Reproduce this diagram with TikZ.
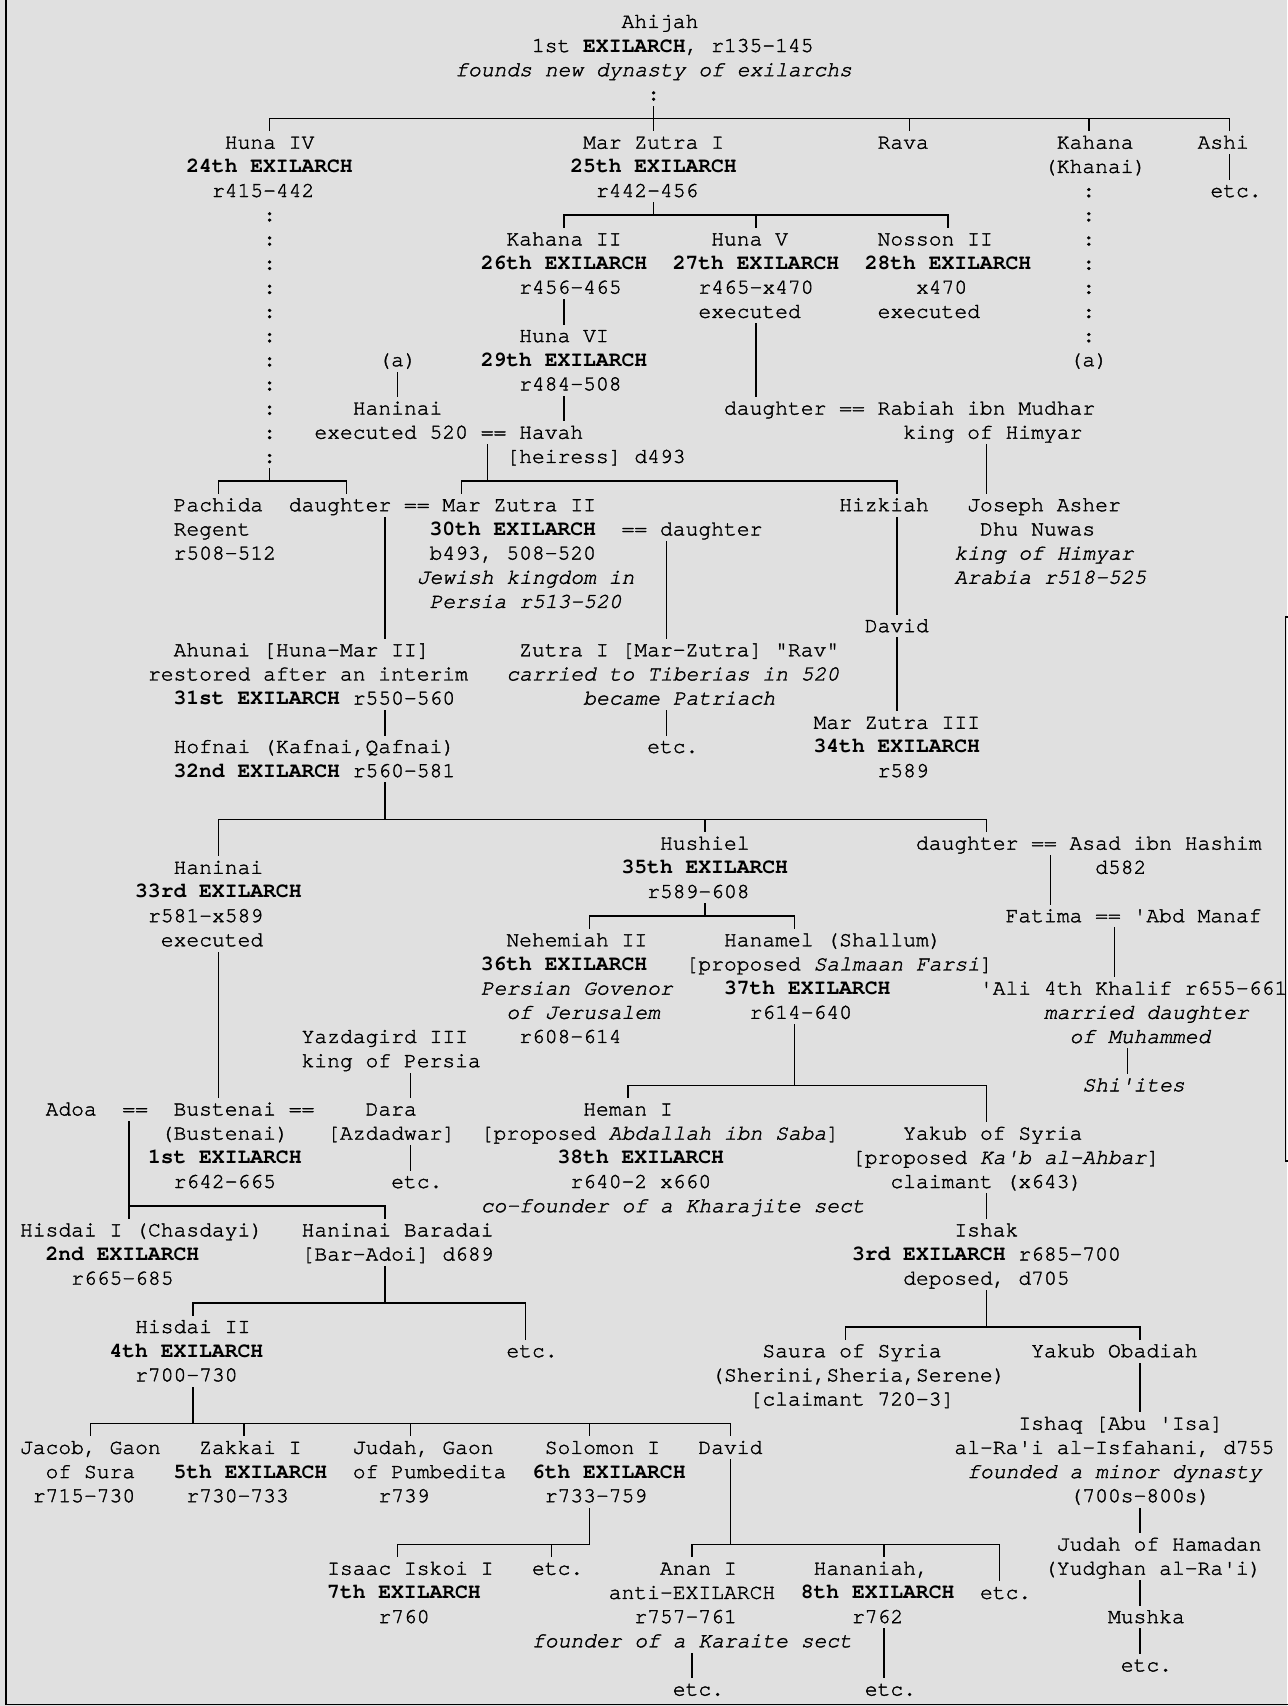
\documentclass[tikz,border=0pt]{standalone}
\usepackage{fontspec}
\setmonofont{texgyrecursor}[Extension=.otf, UprightFont=*-regular, BoldFont=*-bold, ItalicFont=*-italic, BoldItalicFont=*-bolditalic, UprightFeatures={FakeBold=1.6}, ItalicFeatures={FakeBold=1.6}]
\newcommand\mytt{\ttfamily\fontsize{21.33pt}{24.17pt}\selectfont\frenchspacing}
\definecolor{bg}{RGB}{224,224,224}
\definecolor{ink}{RGB}{0,0,0}
\tikzset{
  tx/.style={anchor=base west, inner sep=0pt, outer sep=0pt, font=\mytt, text=black},
  ln/.style={line width=1.4pt, draw=ink, line cap=rect},
}
\newcommand\tn[4]{\node[tx] (#1) at (#2-0.5,#3+0.25) {#4};}
\newcommand\vseg[3]{\draw[ln] (#1,#2-0.5) -- (#1,#3+0.5);}
\newcommand\brk[5]{%
  \draw[ln] (#2,#1) -- (#3,#1);
  \foreach \c in {#4} {\draw[ln] (\c,#1) -- (\c,#1+0.5);}
  \foreach \c in {#5} {\draw[ln] (\c,#1-0.5) -- (\c,#1);}
}
\begin{document}
\begin{tikzpicture}[x=12.8pt,y=-24.17pt]
\useasboundingbox (-2.0625,-0.9019) rectangle (98.484,69.6814);
\fill[bg] (-2.0625,-0.9019) rectangle (98.484,69.6814);
% frame
\draw[line width=1.7pt,draw=black] (-1.609,-0.95) -- (-1.609,69.62) -- (98.6,69.62);
\draw[line width=1.5pt,draw=black] (98.6,24.63) -- (98.35,24.63) -- (98.35,47.13) -- (98.6,47.13);

% ---------- text ----------
\tn{ahijah}{47}{0}{Ahijah}
\tn{ahijahB}{40}{1}{1st \textbf{EXILARCH}, r135-145}
\tn{ahijahC}{34}{2}{\textit{founds new dynasty of exilarchs}}
\tn{ahijahD}{49}{3}{:}

\tn{huna4}{16}{5}{Huna IV}
\tn{mz1}{44}{5}{Mar Zutra I}
\tn{rava}{67}{5}{Rava}
\tn{kahana}{81}{5}{Kahana}
\tn{ashi}{92}{5}{Ashi}
\tn{huna4B}{13}{6}{\textbf{24th EXILARCH}}
\tn{mz1B}{43}{6}{\textbf{25th EXILARCH}}
\tn{kahanaB}{80}{6}{(Khanai)}
\tn{huna4C}{15}{7}{r415-442}
\tn{mz1C}{45}{7}{r442-456}
\tn{ashiB}{93}{7}{etc.}

\foreach \r in {8,...,18} {\node[tx] (colL\r) at (18.5,\r+0.25) {:};}
\foreach \r in {7,...,13} {\node[tx] (colR\r) at (82.5,\r+0.25) {:};}

\tn{kah2}{38}{9}{Kahana II}
\tn{huna5}{54}{9}{Huna V}
\tn{nosson}{67}{9}{Nosson II}
\tn{kah2B}{36}{10}{\textbf{26th EXILARCH}}
\tn{huna5B}{51}{10}{\textbf{27th EXILARCH}}
\tn{nossonB}{66}{10}{\textbf{28th EXILARCH}}
\tn{kah2C}{39}{11}{r456-465}
\tn{huna5C}{53}{11}{r465-x470}
\tn{nossonC}{70}{11}{x470}
\tn{huna5D}{53}{12}{executed}
\tn{nossonD}{67}{12}{executed}
\tn{huna6}{39}{13}{Huna VI}
\tn{aL}{28}{14}{(a)}
\tn{huna6B}{36}{14}{\textbf{29th EXILARCH}}
\tn{aR}{82}{14}{(a)}
\tn{huna6C}{39}{15}{r484-508}
\tn{haninai}{26}{16}{Haninai}
\tn{rabiah}{55}{16}{daughter == Rabiah ibn Mudhar}
\tn{havah}{23}{17}{executed 520 == Havah}
\tn{rabiahB}{69}{17}{king of Himyar}
\tn{havahB}{38}{18}{[heiress] d493}

\tn{pachida}{12}{20}{Pachida}
\tn{mz2}{21}{20}{daughter == Mar Zutra II}
\tn{hizkiah}{64}{20}{Hizkiah}
\tn{joseph}{74}{20}{Joseph Asher}
\tn{pachidaB}{12}{21}{Regent}
\tn{mz2B}{32}{21}{\textbf{30th EXILARCH}}
\tn{mz2W}{47}{21}{== daughter}
\tn{josephB}{75}{21}{Dhu Nuwas}
\tn{pachidaC}{12}{22}{r508-512}
\tn{mz2C}{32}{22}{b493, 508-520}
\tn{josephC}{73}{22}{\textit{king of Himyar}}
\tn{mz2D}{31}{23}{\textit{Jewish kingdom in}}
\tn{josephD}{73}{23}{\textit{Arabia r518-525}}
\tn{mz2E}{32}{24}{\textit{Persia r513-520}}
\tn{david1}{66}{25}{David}
\tn{ahunai}{12}{26}{Ahunai [Huna-Mar II]}
\tn{zutra1}{39}{26}{Zutra I [Mar-Zutra] "Rav"}
\tn{ahunaiB}{10}{27}{restored after an interim}
\tn{zutra1B}{38}{27}{\textit{carried to Tiberias in 520}}
\tn{ahunaiC}{12}{28}{\textbf{31st EXILARCH} r550-560}
\tn{zutra1C}{44}{28}{\textit{became Patriach}}
\tn{mz3}{62}{29}{Mar Zutra III}
\tn{hofnai}{12}{30}{Hofnai (Kafnai,Qafnai)}
\tn{zutra1D}{49}{30}{etc.}
\tn{mz3B}{62}{30}{\textbf{34th EXILARCH}}
\tn{hofnaiB}{12}{31}{\textbf{32nd EXILARCH} r560-581}
\tn{mz3C}{67}{31}{r589}

\tn{hushiel}{50}{34}{Hushiel}
\tn{asad}{70}{34}{daughter == Asad ibn Hashim}
\tn{haninai2}{12}{35}{Haninai}
\tn{hushielB}{47}{35}{\textbf{35th EXILARCH}}
\tn{asadB}{84}{35}{d582}
\tn{haninai2B}{9}{36}{\textbf{33rd EXILARCH}}
\tn{hushielC}{49}{36}{r589-608}
\tn{haninai2C}{10}{37}{r581-x589}
\tn{fatima}{77}{37}{Fatima == 'Abd Manaf}
\tn{haninai2D}{11}{38}{executed}
\tn{nehemiah}{38}{38}{Nehemiah II}
\tn{hanamel}{55}{38}{Hanamel (Shallum)}
\tn{nehemiahB}{36}{39}{\textbf{36th EXILARCH}}
\tn{hanamelB}{52}{39}{[proposed \textit{Salmaan Farsi}]}
\tn{nehemiahC}{36}{40}{\textit{Persian Govenor}}
\tn{hanamelC}{55}{40}{\textbf{37th EXILARCH}}
\tn{ali}{75}{40}{'Ali 4th Khalif r655-661}
\tn{nehemiahD}{38}{41}{\textit{of Jerusalem}}
\tn{hanamelD}{57}{41}{r614-640}
\tn{aliB}{80}{41}{\textit{married daughter}}
\tn{yazd}{22}{42}{Yazdagird III}
\tn{nehemiahE}{39}{42}{r608-614}
\tn{aliC}{82}{42}{\textit{of Muhammed}}
\tn{yazdB}{22}{43}{king of Persia}
\tn{shiites}{83}{44}{\textit{Shi'ites}}

\tn{adoa}{2}{45}{Adoa}
\tn{eqA}{8}{45}{==}
\tn{bustenai}{12}{45}{Bustenai}
\tn{eqB}{21}{45}{==}
\tn{dara}{27}{45}{Dara}
\tn{heman}{44}{45}{Heman I}
\tn{bustenaiB}{11}{46}{(Bustenai)}
\tn{daraB}{24}{46}{[Azdadwar]}
\tn{hemanB}{36}{46}{[proposed \textit{Abdallah ibn Saba}]}
\tn{yakub}{69}{46}{Yakub of Syria}
\tn{bustenaiC}{10}{47}{\textbf{1st EXILARCH}}
\tn{hemanC}{42}{47}{\textbf{38th EXILARCH}}
\tn{yakubB}{65}{47}{[proposed \textit{Ka'b al-Ahbar}]}
\tn{bustenaiD}{12}{48}{r642-665}
\tn{daraC}{29}{48}{etc.}
\tn{hemanD}{43}{48}{r640-2 x660}
\tn{yakubC}{68}{48}{claimant (x643)}
\tn{hemanE}{36}{49}{\textit{co-founder of a Kharajite sect}}

\tn{hisdai1}{0}{50}{Hisdai I (Chasdayi)}
\tn{baradai}{22}{50}{Haninai Baradai}
\tn{ishak}{73}{50}{Ishak}
\tn{hisdai1B}{2}{51}{\textbf{2nd EXILARCH}}
\tn{baradaiB}{22}{51}{[Bar-Adoi] d689}
\tn{ishakB}{65}{51}{\textbf{3rd EXILARCH} r685-700}
\tn{hisdai1C}{4}{52}{r665-685}
\tn{ishakC}{69}{52}{deposed, d705}
\tn{hisdai2}{9}{54}{Hisdai II}
\tn{hisdai2B}{7}{55}{\textbf{4th EXILARCH}}
\tn{baradaiC}{38}{55}{etc.}
\tn{saura}{58}{55}{Saura of Syria}
\tn{obadiah}{79}{55}{Yakub Obadiah}
\tn{hisdai2C}{9}{56}{r700-730}
\tn{sauraB}{54}{56}{(Sherini,Sheria,Serene)}
\tn{sauraC}{57}{57}{[claimant 720-3]}
\tn{ishaq}{78}{58}{Ishaq [Abu 'Isa]}

\tn{jacob}{0}{59}{Jacob, Gaon}
\tn{zakkai}{14}{59}{Zakkai I}
\tn{judah}{26}{59}{Judah, Gaon}
\tn{solomon}{41}{59}{Solomon I}
\tn{david2}{53}{59}{David}
\tn{ishaqB}{73}{59}{al-Ra'i al-Isfahani, d755}
\tn{jacobB}{2}{60}{of Sura}
\tn{zakkaiB}{12}{60}{\textbf{5th EXILARCH}}
\tn{judahB}{26}{60}{of Pumbedita}
\tn{solomonB}{40}{60}{\textbf{6th EXILARCH}}
\tn{ishaqC}{74}{60}{\textit{founded a minor dynasty}}
\tn{jacobC}{1}{61}{r715-730}
\tn{zakkaiC}{13}{61}{r730-733}
\tn{judahC}{28}{61}{r739}
\tn{solomonC}{41}{61}{r733-759}
\tn{ishaqD}{82}{61}{(700s-800s)}
\tn{judahH}{81}{63}{Judah of Hamadan}
\tn{isaac}{24}{64}{Isaac Iskoi I}
\tn{solomonD}{40}{64}{etc.}
\tn{anan}{50}{64}{Anan I}
\tn{hananiah}{62}{64}{Hananiah,}
\tn{judahHB}{80}{64}{(Yudghan al-Ra'i)}
\tn{isaacB}{24}{65}{\textbf{7th EXILARCH}}
\tn{ananB}{46}{65}{anti-EXILARCH}
\tn{hananiahB}{61}{65}{\textbf{8th EXILARCH}}
\tn{david2B}{75}{65}{etc.}
\tn{isaacC}{28}{66}{r760}
\tn{ananC}{48}{66}{r757-761}
\tn{hananiahC}{65}{66}{r762}
\tn{mushka}{85}{66}{Mushka}
\tn{ananD}{40}{67}{\textit{founder of a Karaite sect}}
\tn{mushkaB}{86}{68}{etc.}
\tn{ananE}{51}{69}{etc.}
\tn{hananiahD}{66}{69}{etc.}

% ---------- connectors ----------
\brk{4}{19}{94}{19,49,69,83,94}{49}
\vseg{94}{6}{6}
\brk{8}{42}{72}{42,57,72}{49}
\vseg{42}{12}{12}
\vseg{57}{13}{15}
\vseg{29}{15}{15}
\vseg{42}{16}{16}
\vseg{36}{18}{18}
\vseg{75}{18}{19}
\brk{19}{15}{25}{15,25}{19}
\brk{19}{34}{68}{34,68}{36}
\vseg{28}{21}{25}
\vseg{50}{22}{25}
\vseg{68}{21}{24}
\vseg{68}{26}{28}
\vseg{28}{29}{29}
\vseg{50}{29}{29}
\vseg{28}{32}{32}
\brk{33}{15}{75}{15,53,75}{28}
\vseg{15}{34}{34}
\vseg{80}{35}{36}
\brk{37}{44}{60}{44,60}{53}
\vseg{85}{38}{39}
\vseg{15}{39}{44}
\vseg{60}{42}{43}
\vseg{86}{43}{43}
\vseg{30}{44}{44}
\brk{44}{47}{75}{47,75}{60}
\vseg{75}{45}{45}
\vseg{8}{46}{48}
\vseg{30}{47}{47}
\brk{49}{8}{28}{8,28}{8}
\vseg{75}{49}{49}
\vseg{28}{52}{52}
\brk{53}{13}{39}{13,39}{28}
\vseg{75}{53}{53}
\vseg{39}{54}{54}
\brk{54}{64}{87}{64,87}{75}
\vseg{87}{56}{57}
\vseg{13}{57}{57}
\brk{58}{5}{55}{5,17,30,44,55}{13}
\vseg{55}{60}{62}
\vseg{44}{62}{62}
\vseg{87}{62}{62}
\brk{63}{29}{44}{29,41}{44}
\brk{63}{52}{76}{52,67,76}{55}
\vseg{76}{64}{64}
\vseg{87}{65}{65}
\vseg{67}{67}{68}
\vseg{87}{67}{67}
\vseg{52}{68}{68}
\end{tikzpicture}
\end{document}
